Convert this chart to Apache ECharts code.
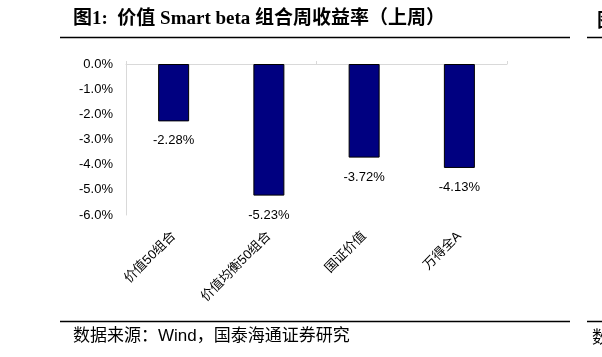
<!DOCTYPE html>
<html lang="zh">
<head>
<meta charset="UTF-8">
<title>价值 Smart beta 组合周收益率</title>
<script src="https://cdn.jsdelivr.net/npm/echarts@6/dist/echarts.min.js"></script>
<style>
  html, body { margin: 0; padding: 0; background: #fff; }
  #chart { width: 602px; height: 357px; }
</style>
</head>
<body>
<div id="chart"></div>
<script>
// 数据
var categories = ['价值50组合', '价值均衡50组合', '国证价值', '万得全A'];
var weeklyReturn = [-2.28, -5.23, -3.72, -4.13];
var yMin = -6, yMax = 0, yStep = 1;

var titleText = '图1:  价值 Smart beta 组合周收益率（上周）';
var sourceText = '数据来源：Wind，国泰海通证券研究';

var myChart = echarts.init(document.getElementById('chart'));

var option = {
  animation: false,
  grid: { left: 126, right: 95, top: 64, bottom: 142 },
  xAxis: [
    {
      // 底部只放类目标签
      type: 'category',
      data: categories,
      position: 'bottom',
      axisLine: { show: false, onZero: false },
      axisTick: { show: false },
      axisLabel: {
        rotate: 45,
        margin: 19,
        fontSize: 13,
        color: '#000',
        fontFamily: 'Liberation Sans, Noto Sans CJK SC'
      }
    },
    {
      // 0 轴线在上方
      type: 'category',
      data: categories,
      position: 'top',
      axisLine: { onZero: false, lineStyle: { color: '#d9d9d9', width: 1 } },
      axisTick: { show: true, length: 3, lineStyle: { color: '#d9d9d9' } },
      axisLabel: { show: false }
    }
  ],
  yAxis: {
    type: 'value',
    min: yMin,
    max: yMax,
    interval: yStep,
    axisLine: { show: true, lineStyle: { color: '#d9d9d9', width: 1 } },
    axisTick: { show: false },
    splitLine: { show: false },
    axisLabel: {
      margin: 13,
      fontSize: 13,
      color: '#000',
      fontFamily: 'Liberation Sans',
      formatter: function (v) { return v.toFixed(1) + '%'; }
    }
  },
  series: [{
    type: 'bar',
    xAxisIndex: 0,
    data: weeklyReturn,
    barWidth: 31,
    itemStyle: { color: '#000080', borderColor: '#000', borderWidth: 1 },
    label: {
      show: true,
      position: 'bottom',
      distance: 13,
      fontSize: 13,
      color: '#000',
      fontFamily: 'Liberation Sans',
      formatter: function (p) { return p.value.toFixed(2) + '%'; }
    }
  }],
  graphic: [
    {
      type: 'text', left: 73, top: 10,
      style: {
        text: titleText,
        font: 'bold 19px "Liberation Serif", "Noto Sans CJK SC"',
        fill: '#000'
      }
    },
    { type: 'line', shape: { x1: 60, y1: 37.5, x2: 570, y2: 37.5 }, style: { stroke: '#000', lineWidth: 1.5 } },
    { type: 'line', shape: { x1: 587, y1: 37.5, x2: 602, y2: 37.5 }, style: { stroke: '#000', lineWidth: 1.5 } },
    {
      type: 'text', left: 597, top: 10,
      style: { text: '图', font: 'bold 19px "Noto Sans CJK SC"', fill: '#000' }
    },
    { type: 'line', shape: { x1: 60, y1: 321.5, x2: 570, y2: 321.5 }, style: { stroke: '#000', lineWidth: 1.5 } },
    { type: 'line', shape: { x1: 587, y1: 321.5, x2: 602, y2: 321.5 }, style: { stroke: '#000', lineWidth: 1.5 } },
    {
      type: 'text', left: 73, top: 328,
      style: {
        text: sourceText,
        font: '17px "Liberation Sans", "Noto Sans CJK SC"',
        fill: '#000'
      }
    },
    {
      type: 'text', left: 592, top: 328,
      style: { text: '数', font: '17px "Noto Sans CJK SC"', fill: '#000' }
    }
  ]
};

myChart.setOption(option);
</script>
</body>
</html>
